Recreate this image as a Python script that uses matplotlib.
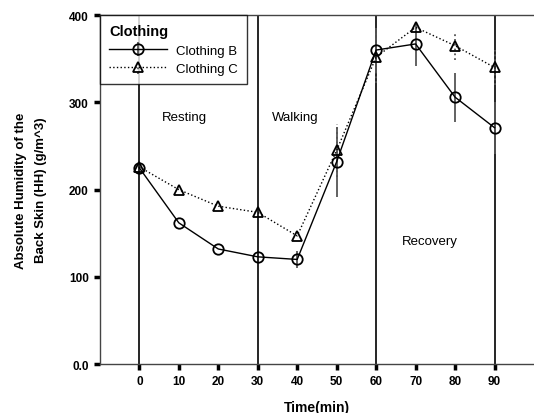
import matplotlib
matplotlib.use("Agg")
import matplotlib.pyplot as plt

plt.rcParams['font.family'] = ['Liberation Sans', 'DejaVu Sans']

time = [0, 10, 20, 30, 40, 50, 60, 70, 80, 90]
clothing_b = [225, 162, 132, 123, 120, 232, 360, 367, 306, 271]
clothing_b_err = [0, 0, 0, 0, 10, 40, 25, 25, 28, 30]
clothing_c = [226, 200, 181, 174, 147, 245, 352, 386, 365, 340]
clothing_c_err = [0, 0, 0, 0, 0, 30, 30, 0, 16, 20]
phase_bounds = [0, 30, 60, 90]
phases = [("Resting", 11.5, 283), ("Walking", 39.5, 283), ("Recovery", 73.5, 141)]
y_ticks = [0, 100, 200, 300, 400]
y_tick_labels = ["0.0", "100", "200", "300", "400"]

fig = plt.figure(figsize=(5.34, 4.14), dpi=100)
ax = fig.add_axes([0.187, 0.118, 0.813, 0.843])

for xb in phase_bounds:
    ax.axvline(xb, color="black", lw=1.2, zorder=1)

ax.errorbar(time, clothing_b, yerr=clothing_b_err, color="black", lw=1.0,
            ecolor="#555555", elinewidth=1.3, capsize=0, marker="o",
            markersize=7.5, markerfacecolor="none", markeredgewidth=1.3,
            label="Clothing B", zorder=3)
eb = ax.errorbar(time, clothing_c, yerr=clothing_c_err, color="black", lw=1.0,
                 ls=":", ecolor="#555555", elinewidth=1.3, capsize=0,
                 marker="^", markersize=7.5, markerfacecolor="none",
                 markeredgewidth=1.3, label="Clothing C", zorder=3)
eb[2][0].set_linestyle(":")

for name, xp, yp in phases:
    ax.text(xp, yp, name, ha="center", va="center", fontsize=9.5)

ax.set_xlim(-10, 100)
ax.set_ylim(0, 400)
ax.set_xticks(time)
ax.set_yticks(y_ticks)
ax.set_yticklabels(y_tick_labels)
ax.tick_params(axis="both", direction="out", length=4, width=2.5,
               labelsize=8.5, pad=4)
for lbl in ax.get_xticklabels() + ax.get_yticklabels():
    lbl.set_fontweight("bold")
ax.spines["right"].set_visible(False)
for s in ("left", "bottom", "top"):
    ax.spines[s].set_color("#444444")
    ax.spines[s].set_linewidth(1.0)

ax.set_xlabel("Time(min)", fontsize=10, fontweight="bold", labelpad=9)
ax.set_ylabel("Absolute Humidity of the\nBack Skin (HH) (g/m^3)", fontsize=9.5,
              fontweight="bold", labelpad=16, linespacing=1.9)

leg = ax.legend(title="Clothing", loc="upper left", fontsize=9.5,
                title_fontproperties={"weight": "bold", "size": 10.5},
                frameon=True, fancybox=False, borderaxespad=0,
                handlelength=4.4, borderpad=0.7, labelspacing=0.45,
                handletextpad=0.7)
leg._legend_box.align = "left"
leg.get_frame().set_edgecolor("black")
leg.get_frame().set_linewidth(1.0)
leg.set_zorder(5)

fig.savefig("out.png", dpi=100)
